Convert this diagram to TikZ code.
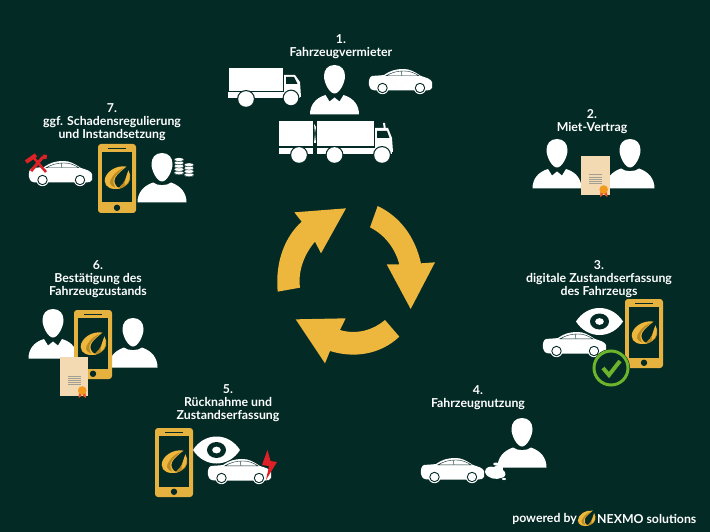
\documentclass[tikz,border=0pt]{standalone}
\usepackage{fontspec}
\setmainfont{Lato}
\definecolor{bg}{HTML}{032A25}
\definecolor{gold}{HTML}{EDB63C}
\definecolor{phonegold}{HTML}{E6B23F}
\definecolor{logod}{HTML}{B98A22}
\definecolor{paper}{HTML}{F4DAB2}
\definecolor{seal}{HTML}{F39A1E}
\definecolor{sealr}{HTML}{E2552A}
\definecolor{okgreen}{HTML}{6CB42C}
\definecolor{redmark}{HTML}{DE2027}
\definecolor{docline}{HTML}{A09F94}
\tikzset{
  x=1pt,y=-1pt,
  label/.style={text=white,align=center,font=\bfseries\fontsize{12.3}{12.9}\selectfont,inner sep=0pt},
  wh/.style={fill=white,draw=none},
  dk/.style={fill=bg,draw=none},
}
\newcommand{\headshape}{
  \fill[wh] (0,0) .. controls (7,0) and (10.5,5) .. (10.5,11) .. controls (10.5,18) and (5,28.5) .. (0,28.5) .. controls (-5,28.5) and (-10.5,18) .. (-10.5,11) .. controls (-10.5,5) and (-7,0) .. (0,0);}
\newcommand{\personC}[2]{\begin{scope}[shift={(#1,#2)}]\headshape
  \fill[wh] (-24.5,49.5) .. controls (-24.5,40) and (-19,33) .. (-9,30) -- (-5,36.5) -- (0,32.5) -- (5,36.5) -- (9,30) .. controls (19,33) and (24.5,40) .. (24.5,49.5) -- cycle;
\end{scope}}
\newcommand{\personP}[2]{\begin{scope}[shift={(#1,#2)}]\headshape
  \fill[wh] (-24.5,49.5) .. controls (-24.5,40) and (-19,33) .. (-9,29.5) .. controls (-5,33) and (5,33) .. (9,29.5) .. controls (19,33) and (24.5,40) .. (24.5,49.5) -- cycle;
\end{scope}}
\newcommand{\carshape}[2]{\begin{scope}[shift={(#1,#2)}]
  \fill[wh] (0,16) .. controls (-0.5,11) and (0.5,8) .. (3,7) .. controls (8,6.5) and (12,6.5) .. (15,6) .. controls (20,2.5) and (25,0) .. (35,0) .. controls (41,0) and (46,3) .. (52,7) .. controls (57,8.5) and (62,10) .. (63,13) -- (63,19) .. controls (62,21) and (60,21.5) .. (57,21.5) -- (8,21.5) .. controls (4,21.5) and (1,21) .. (0,16) -- cycle;
  \draw[bg,line width=.4pt] (17,6.8) .. controls (23,3.4) and (28,2) .. (35,2) .. controls (41,2) and (45,3.8) .. (50,6.8) -- cycle;
  \draw[bg,line width=.4pt] (32,2) -- (33,6.8);
  \foreach \cx in {13.5,51}{
    \fill[wh] (\cx,19) circle (6.2);
    \draw[bg,line width=.9pt] (\cx,19) circle (4.7);}
\end{scope}}
\newcommand{\logoswirl}[3]{\begin{scope}[shift={(#1,#2)},scale=#3]
  \fill[logod] (11,-8) .. controls (15,-2) and (13,6) .. (7,9) .. controls (3,11.5) and (0,12) .. (-3,11.5) .. controls (1,11) and (3,8) .. (5,6) .. controls (8,2) and (9,-3) .. (11,-8) -- cycle;
  \fill[gold] (11,-8) .. controls (14,-2) and (12,5) .. (7,8) .. controls (7,4) and (9,-3) .. (11,-8) -- cycle;
  \fill[gold] (9,-12) .. controls (-2,-14) and (-14,-6) .. (-14,3) .. controls (-14,10) and (-6,13) .. (2,11) .. controls (-3,9) and (-5,4) .. (-3,0) .. controls (-1,-4) and (4,-8) .. (9,-12) -- cycle;
  \fill[logod] (-6,-1) .. controls (-10,4) and (-9,8) .. (-3,10) .. controls (-5,6) and (-6,3) .. (-3.5,-1) .. controls (-1,-5) and (3,-8) .. (7,-11) .. controls (2,-9) and (-3,-6) .. (-6,-1) -- cycle;
\end{scope}}
\newcommand{\phonebody}[2]{\begin{scope}[shift={(#1,#2)}]
  \fill[phonegold,rounded corners=3pt] (0,0) rectangle (38,69);
  \fill[dk] (4,8) rectangle (34,58.5);
  \fill[dk] (10,3.6) rectangle (28,4.8);
  \fill[dk] (19,63.8) circle (3.2);
  \logoswirl{20}{34}{0.95}
\end{scope}}
\newcommand{\eyeshape}[2]{\begin{scope}[shift={(#1,#2)}]
  \fill[wh] (-23.5,0) .. controls (-12,-18) and (12,-18) .. (23.5,0) .. controls (12,18) and (-12,18) .. (-23.5,0) -- cycle;
  \fill[dk] (0,0) ellipse (9.5 and 8);
  \fill[wh] (0,0) ellipse (4.3 and 3.4);
\end{scope}}
\newcommand{\docshape}[2]{\begin{scope}[shift={(#1,#2)}]
  \fill[paper] (0,0) rectangle (28.5,39);
  \fill[sealr] (19.5,36) -- (19,41) -- (21.5,39.5) -- (22.5,36) -- (24,39.5) -- (26.5,41) -- (26,36) -- cycle;
  \fill[seal] (22.7,33.5) circle (4.3);
  \foreach \ly in {18.5,20.6,22.7,24.8,26.9}{\fill[docline] (8,\ly) rectangle (21,\ly+1);}
\end{scope}}
\newcommand{\wheel}[3]{\fill[dk] (#1,#2) circle (#3+1.2); \fill[wh] (#1,#2) circle (#3);}
\begin{document}
\begin{tikzpicture}
\useasboundingbox (0,0) rectangle (710,532);
\fill[bg] (0,0) rectangle (710,532);
% circular arrows
\begin{scope}[shift={(265,195)},scale=1/3]
  \fill[gold] (38,290) -- (105,278) .. controls (98,225) and (120,175) .. (150,140) -- (168,175) -- (243,40) -- (88,52) -- (110,80) .. controls (60,125) and (30,200) .. (38,290) -- cycle;
  \fill[gold] (338,33) -- (315,97) .. controls (360,120) and (390,160) .. (403,208) -- (365,208) -- (437,342) -- (510,202) -- (468,205) .. controls (450,125) and (405,65) .. (338,33) -- cycle;
  \fill[gold] (360,375) -- (403,425) .. controls (345,480) and (265,490) .. (195,468) -- (180,505) -- (92,373) -- (242,370) -- (225,405) .. controls (275,420) and (325,405) .. (360,375) -- cycle;
\end{scope}
% 1
\fill[wh] (229,68) rectangle (283,91);
\fill[wh] (228,92.5) rectangle (300,98);
\fill[wh] (284,75) -- (295,75) -- (300,82) -- (301,97) -- (284,97) -- cycle;
\fill[dk] (286,77) -- (294,77) -- (297.5,84) -- (286,84) -- cycle;
\wheel{246}{99}{7.8}\wheel{291}{98}{7.2}
\personC{334.5}{65}
\carshape{369}{69}
\fill[wh] (279,121) rectangle (313,146);
\fill[wh] (317,121) rectangle (374,146);
\fill[wh] (314,124) -- (316,127) -- (315,133) -- (316,143) -- (314,143) -- (315,134) -- cycle;
\fill[wh] (279,148) rectangle (313,154.5);
\fill[wh] (317,148) rectangle (392,154.5);
\fill[wh] (383,123) -- (385,123) -- (386,130) -- (384,130) -- cycle;
\fill[wh] (375,128) -- (388,128) -- (392,138) -- (393,152) -- (375,152) -- cycle;
\fill[dk] (377,131) -- (387,131) -- (389.5,138) -- (377,138) -- cycle;
\wheel{299}{155}{7.8}\wheel{334.5}{155}{7.8}\wheel{382}{155}{7.8}
% 2
\personC{557}{139}
\personP{630}{139}
\docshape{581}{156}
% 3
\eyeshape{599.5}{321.5}
\carshape{543}{332}
\phonebody{625}{299}
\fill[dk] (611,368) circle (19);
\draw[okgreen,line width=3pt] (611,368) circle (17);
\draw[okgreen,line width=4pt] (603,368) -- (609,375) -- (620,361);
% 4
\personP{522}{418}
\carshape{421}{458}
\fill[wh] (485,472) .. controls (485,467) and (490,466) .. (494,467) .. controls (497,463) and (505,466) .. (503,470) .. controls (507,472) and (506,478) .. (501,478) .. controls (497,480) and (487,479) .. (485,472) -- cycle;
\fill[wh] (496,464) ellipse (2.8 and 1.5);
\fill[wh] (504,479) ellipse (2 and 1.1);
% 5
\phonebody{155}{428}
\eyeshape{216.5}{450}
\carshape{208}{459}
\fill[redmark] (267.5,450) -- (262,465) -- (269,466) -- (266,480) -- (277,462) -- (270.5,461) -- cycle;
% 6
\personC{53}{309}
\personP{133}{318}
\phonebody{74}{310}
\docshape{59.5}{357}
% 7
\carshape{29}{161}
\draw[redmark,line width=2.6pt] (33,157) -- (46,172);
\draw[redmark,line width=4pt] (26,162) -- (36,155);
\draw[redmark,line width=3pt] (43,157) -- (31,171);
\fill[redmark] (43,154.5) -- (47,155) -- (46.5,159) -- (42,159) -- cycle;
\phonebody{98}{144}
\personP{162}{153}
\foreach \sx/\sb/\n in {179/173/5,189/175/4}{
  \foreach \i in {1,...,\n}{
    \fill[wh] (\sx,\sb-3.3*\i+3.3) ellipse (4.8 and 1.9);
    \draw[bg,line width=.4pt] (\sx-4.8,\sb-3.3*\i+3.3) .. controls (\sx-3,\sb-3.3*\i+5.5) and (\sx+3,\sb-3.3*\i+5.5) .. (\sx+4.8,\sb-3.3*\i+3.3);}
}
% labels
\node[label] (t1) at (341,47) {1.\\Fahrzeugvermieter};
\node[label] (t2) at (592,121.5) {2.\\Miet-Vertrag};
\node[label] (t3) at (599,279) {3.\\digitale Zustandserfassung\\des Fahrzeugs};
\node[label] (t4) at (478,398) {4.\\Fahrzeugnutzung};
\node[label] (t5) at (228,403) {5.\\Rücknahme und\\Zustandserfassung};
\node[label] (t6) at (98,279.5) {6.\\Bestätigung des\\Fahrzeugzustands};
\node[label] (t7) at (112,122) {7.\\ggf. Schadensregulierung\\und Instandsetzung};
\node[label,anchor=east] (pw) at (577,518.5) {powered by};
\logoswirl{587}{518.5}{0.65}
\node[label,anchor=west] (nx) at (597,518.5) {NEXMO solutions};
\end{tikzpicture}
\end{document}
